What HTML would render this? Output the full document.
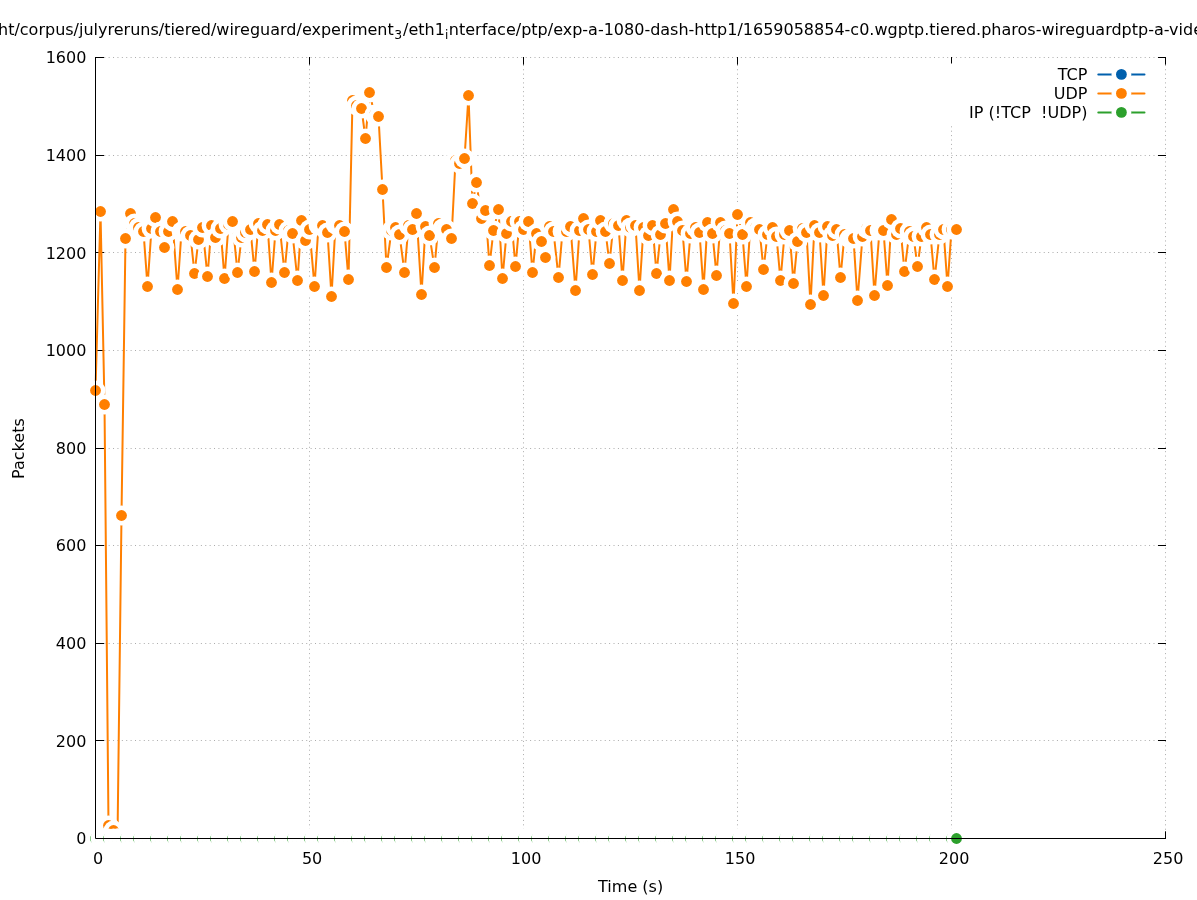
<!DOCTYPE html>
<html><head><meta charset="utf-8"><title>Packets</title><style>
html,body{margin:0;padding:0;background:#fff;overflow:hidden;}svg{display:block;}
text{font-family:'DejaVu Sans','Liberation Sans',sans-serif;font-size:16px;fill:#000;}
</style></head><body>
<svg width="1197" height="900" viewBox="0 0 1197 900">
<rect width="1197" height="900" fill="#fff"/>
<path d="M95.50 740.50H1165.50M95.50 643.50H1165.50M95.50 545.50H1165.50M95.50 448.50H1165.50M95.50 350.50H1165.50M95.50 252.50H1165.50M95.50 155.50H1165.50M95.50 57.50H1165.50M309.50 838.50V57.50M523.50 838.50V57.50M737.50 838.50V57.50M951.50 838.50V57.50M1165.50 838.50V57.50" stroke="#ababab" stroke-width="1" stroke-dasharray="1 3.39" fill="none"/>
<path d="M95 838.50H104M1166 838.50H1158M95 740.50H104M1166 740.50H1158M95 643.50H104M1166 643.50H1158M95 545.50H104M1166 545.50H1158M95 448.50H104M1166 448.50H1158M95 350.50H104M1166 350.50H1158M95 252.50H104M1166 252.50H1158M95 155.50H104M1166 155.50H1158M95 57.50H104M1166 57.50H1158M95.50 839V831.3M95.50 57V64.7M309.50 839V831.3M309.50 57V64.7M523.50 839V831.3M523.50 57V64.7M737.50 839V831.3M737.50 57V64.7M951.50 839V831.3M951.50 57V64.7M1165.50 839V831.3M1165.50 57V64.7" stroke="#000" stroke-width="1" fill="none"/>
<text x="86.4" y="844.30" text-anchor="end">0</text>
<text x="86.4" y="746.67" text-anchor="end">200</text>
<text x="86.4" y="649.05" text-anchor="end">400</text>
<text x="86.4" y="551.42" text-anchor="end">600</text>
<text x="86.4" y="453.80" text-anchor="end">800</text>
<text x="86.4" y="356.18" text-anchor="end">1000</text>
<text x="86.4" y="258.55" text-anchor="end">1200</text>
<text x="86.4" y="160.93" text-anchor="end">1400</text>
<text x="86.4" y="63.30" text-anchor="end">1600</text>
<text x="98.10" y="863.8" text-anchor="middle">0</text>
<text x="312.10" y="863.8" text-anchor="middle">50</text>
<text x="526.10" y="863.8" text-anchor="middle">100</text>
<text x="740.10" y="863.8" text-anchor="middle">150</text>
<text x="954.10" y="863.8" text-anchor="middle">200</text>
<text x="1168.10" y="863.8" text-anchor="middle">250</text>
<text x="630.6" y="892" text-anchor="middle">Time (s)</text>
<text transform="translate(23.8 448.6) rotate(-90)" text-anchor="middle">Packets</text>
<text x="-2" y="34.7">ht/corpus/julyreruns/tiered/wireguard/experiment<tspan font-size="12.4" dx="0.4" dy="4">3</tspan><tspan dx="1" dy="-4">/eth1</tspan><tspan font-size="12" dy="4">i</tspan><tspan dx="0.6" dy="-4">nterface/ptp/exp-a-1080-dash-http1/1659058854-c0.wgptp.tiered.pharos-wireguardptp-a-video</tspan></text>
<polyline points="95.50,390.50 100.50,211.50 104.50,404.50 108.50,825.50 113.50,830.50 117.50,838.50 121.50,515.50 125.50,238.50 130.50,213.50 134.50,223.50 138.50,227.50 143.50,231.50 147.50,286.50 151.50,228.50 155.50,217.50 160.50,231.50 164.50,247.50 168.50,231.50 172.50,221.50 177.50,289.50 181.50,231.50 185.50,231.50 190.50,235.50 194.50,273.50 198.50,239.50 202.50,227.50 207.50,276.50 211.50,225.50 215.50,237.50 220.50,228.50 224.50,278.50 228.50,224.50 232.50,221.50 237.50,272.50 241.50,237.50 245.50,232.50 250.50,229.50 254.50,271.50 258.50,223.50 262.50,230.50 267.50,224.50 271.50,282.50 275.50,230.50 279.50,224.50 284.50,272.50 288.50,230.50 292.50,233.50 297.50,280.50 301.50,220.50 305.50,240.50 309.50,229.50 314.50,286.50 318.50,225.50 322.50,225.50 327.50,232.50 331.50,296.50 335.50,224.50 339.50,225.50 344.50,231.50 348.50,279.50 352.50,100.50 356.50,105.50 361.50,108.50 365.50,138.50 369.50,92.50 374.50,114.50 378.50,116.50 382.50,189.50 386.50,267.50 391.50,230.50 395.50,227.50 399.50,234.50 404.50,272.50 408.50,225.50 412.50,229.50 416.50,213.50 421.50,294.50 425.50,226.50 429.50,235.50 434.50,267.50 438.50,223.50 442.50,228.50 446.50,229.50 451.50,238.50 455.50,160.50 459.50,163.50 464.50,158.50 468.50,95.50 472.50,203.50 476.50,182.50 481.50,218.50 485.50,210.50 489.50,265.50 493.50,230.50 498.50,209.50 502.50,278.50 506.50,233.50 511.50,221.50 515.50,266.50 519.50,221.50 523.50,229.50 528.50,221.50 532.50,272.50 536.50,233.50 541.50,241.50 545.50,257.50 549.50,226.50 553.50,231.50 558.50,277.50 562.50,231.50 566.50,231.50 570.50,226.50 575.50,290.50 579.50,230.50 583.50,218.50 588.50,229.50 592.50,274.50 596.50,231.50 600.50,220.50 605.50,231.50 609.50,263.50 613.50,223.50 618.50,225.50 622.50,280.50 626.50,220.50 630.50,227.50 635.50,225.50 639.50,290.50 643.50,227.50 648.50,235.50 652.50,225.50 656.50,273.50 660.50,234.50 665.50,223.50 669.50,280.50 673.50,209.50 677.50,221.50 682.50,230.50 686.50,281.50 690.50,233.50 695.50,227.50 699.50,232.50 703.50,289.50 707.50,222.50 712.50,233.50 716.50,275.50 720.50,222.50 725.50,230.50 729.50,233.50 733.50,303.50 737.50,214.50 742.50,234.50 746.50,286.50 750.50,222.50 755.50,227.50 759.50,229.50 763.50,269.50 767.50,234.50 772.50,227.50 776.50,236.50 780.50,280.50 784.50,234.50 789.50,230.50 793.50,283.50 797.50,241.50 802.50,228.50 806.50,232.50 810.50,304.50 814.50,225.50 819.50,232.50 823.50,295.50 827.50,226.50 832.50,235.50 836.50,229.50 840.50,277.50 844.50,234.50 849.50,238.50 853.50,238.50 857.50,300.50 862.50,236.50 866.50,228.50 870.50,230.50 874.50,295.50 879.50,230.50 883.50,230.50 887.50,285.50 891.50,219.50 896.50,234.50 900.50,228.50 904.50,271.50 909.50,231.50 913.50,236.50 917.50,266.50 921.50,236.50 926.50,227.50 930.50,234.50 934.50,279.50 939.50,234.50 943.50,229.50 947.50,286.50 951.50,229.50 956.50,229.50" fill="none" stroke="#ff7f00" stroke-width="2" stroke-linejoin="round"/>
<path d="M95.50 838.50H956.50" stroke="#2ca02c" stroke-width="2"/>
<circle cx="95.50" cy="390.50" r="9.90" fill="#fff"/><circle cx="95.50" cy="390.50" r="5.40" fill="#ff7f00"/>
<circle cx="100.50" cy="211.50" r="9.90" fill="#fff"/><circle cx="100.50" cy="211.50" r="5.40" fill="#ff7f00"/>
<circle cx="104.50" cy="404.50" r="9.90" fill="#fff"/><circle cx="104.50" cy="404.50" r="5.40" fill="#ff7f00"/>
<circle cx="108.50" cy="825.50" r="9.90" fill="#fff"/><circle cx="108.50" cy="825.50" r="5.40" fill="#ff7f00"/>
<circle cx="113.50" cy="830.50" r="9.90" fill="#fff"/><circle cx="113.50" cy="830.50" r="5.40" fill="#ff7f00"/>
<circle cx="117.50" cy="838.50" r="9.90" fill="#fff"/><circle cx="117.50" cy="838.50" r="5.40" fill="#ff7f00"/>
<circle cx="121.50" cy="515.50" r="9.90" fill="#fff"/><circle cx="121.50" cy="515.50" r="5.40" fill="#ff7f00"/>
<circle cx="125.50" cy="238.50" r="9.90" fill="#fff"/><circle cx="125.50" cy="238.50" r="5.40" fill="#ff7f00"/>
<circle cx="130.50" cy="213.50" r="9.90" fill="#fff"/><circle cx="130.50" cy="213.50" r="5.40" fill="#ff7f00"/>
<circle cx="134.50" cy="223.50" r="9.90" fill="#fff"/><circle cx="134.50" cy="223.50" r="5.40" fill="#ff7f00"/>
<circle cx="138.50" cy="227.50" r="9.90" fill="#fff"/><circle cx="138.50" cy="227.50" r="5.40" fill="#ff7f00"/>
<circle cx="143.50" cy="231.50" r="9.90" fill="#fff"/><circle cx="143.50" cy="231.50" r="5.40" fill="#ff7f00"/>
<circle cx="147.50" cy="286.50" r="9.90" fill="#fff"/><circle cx="147.50" cy="286.50" r="5.40" fill="#ff7f00"/>
<circle cx="151.50" cy="228.50" r="9.90" fill="#fff"/><circle cx="151.50" cy="228.50" r="5.40" fill="#ff7f00"/>
<circle cx="155.50" cy="217.50" r="9.90" fill="#fff"/><circle cx="155.50" cy="217.50" r="5.40" fill="#ff7f00"/>
<circle cx="160.50" cy="231.50" r="9.90" fill="#fff"/><circle cx="160.50" cy="231.50" r="5.40" fill="#ff7f00"/>
<circle cx="164.50" cy="247.50" r="9.90" fill="#fff"/><circle cx="164.50" cy="247.50" r="5.40" fill="#ff7f00"/>
<circle cx="168.50" cy="231.50" r="9.90" fill="#fff"/><circle cx="168.50" cy="231.50" r="5.40" fill="#ff7f00"/>
<circle cx="172.50" cy="221.50" r="9.90" fill="#fff"/><circle cx="172.50" cy="221.50" r="5.40" fill="#ff7f00"/>
<circle cx="177.50" cy="289.50" r="9.90" fill="#fff"/><circle cx="177.50" cy="289.50" r="5.40" fill="#ff7f00"/>
<circle cx="181.50" cy="231.50" r="9.90" fill="#fff"/><circle cx="181.50" cy="231.50" r="5.40" fill="#ff7f00"/>
<circle cx="185.50" cy="231.50" r="9.90" fill="#fff"/><circle cx="185.50" cy="231.50" r="5.40" fill="#ff7f00"/>
<circle cx="190.50" cy="235.50" r="9.90" fill="#fff"/><circle cx="190.50" cy="235.50" r="5.40" fill="#ff7f00"/>
<circle cx="194.50" cy="273.50" r="9.90" fill="#fff"/><circle cx="194.50" cy="273.50" r="5.40" fill="#ff7f00"/>
<circle cx="198.50" cy="239.50" r="9.90" fill="#fff"/><circle cx="198.50" cy="239.50" r="5.40" fill="#ff7f00"/>
<circle cx="202.50" cy="227.50" r="9.90" fill="#fff"/><circle cx="202.50" cy="227.50" r="5.40" fill="#ff7f00"/>
<circle cx="207.50" cy="276.50" r="9.90" fill="#fff"/><circle cx="207.50" cy="276.50" r="5.40" fill="#ff7f00"/>
<circle cx="211.50" cy="225.50" r="9.90" fill="#fff"/><circle cx="211.50" cy="225.50" r="5.40" fill="#ff7f00"/>
<circle cx="215.50" cy="237.50" r="9.90" fill="#fff"/><circle cx="215.50" cy="237.50" r="5.40" fill="#ff7f00"/>
<circle cx="220.50" cy="228.50" r="9.90" fill="#fff"/><circle cx="220.50" cy="228.50" r="5.40" fill="#ff7f00"/>
<circle cx="224.50" cy="278.50" r="9.90" fill="#fff"/><circle cx="224.50" cy="278.50" r="5.40" fill="#ff7f00"/>
<circle cx="228.50" cy="224.50" r="9.90" fill="#fff"/><circle cx="228.50" cy="224.50" r="5.40" fill="#ff7f00"/>
<circle cx="232.50" cy="221.50" r="9.90" fill="#fff"/><circle cx="232.50" cy="221.50" r="5.40" fill="#ff7f00"/>
<circle cx="237.50" cy="272.50" r="9.90" fill="#fff"/><circle cx="237.50" cy="272.50" r="5.40" fill="#ff7f00"/>
<circle cx="241.50" cy="237.50" r="9.90" fill="#fff"/><circle cx="241.50" cy="237.50" r="5.40" fill="#ff7f00"/>
<circle cx="245.50" cy="232.50" r="9.90" fill="#fff"/><circle cx="245.50" cy="232.50" r="5.40" fill="#ff7f00"/>
<circle cx="250.50" cy="229.50" r="9.90" fill="#fff"/><circle cx="250.50" cy="229.50" r="5.40" fill="#ff7f00"/>
<circle cx="254.50" cy="271.50" r="9.90" fill="#fff"/><circle cx="254.50" cy="271.50" r="5.40" fill="#ff7f00"/>
<circle cx="258.50" cy="223.50" r="9.90" fill="#fff"/><circle cx="258.50" cy="223.50" r="5.40" fill="#ff7f00"/>
<circle cx="262.50" cy="230.50" r="9.90" fill="#fff"/><circle cx="262.50" cy="230.50" r="5.40" fill="#ff7f00"/>
<circle cx="267.50" cy="224.50" r="9.90" fill="#fff"/><circle cx="267.50" cy="224.50" r="5.40" fill="#ff7f00"/>
<circle cx="271.50" cy="282.50" r="9.90" fill="#fff"/><circle cx="271.50" cy="282.50" r="5.40" fill="#ff7f00"/>
<circle cx="275.50" cy="230.50" r="9.90" fill="#fff"/><circle cx="275.50" cy="230.50" r="5.40" fill="#ff7f00"/>
<circle cx="279.50" cy="224.50" r="9.90" fill="#fff"/><circle cx="279.50" cy="224.50" r="5.40" fill="#ff7f00"/>
<circle cx="284.50" cy="272.50" r="9.90" fill="#fff"/><circle cx="284.50" cy="272.50" r="5.40" fill="#ff7f00"/>
<circle cx="288.50" cy="230.50" r="9.90" fill="#fff"/><circle cx="288.50" cy="230.50" r="5.40" fill="#ff7f00"/>
<circle cx="292.50" cy="233.50" r="9.90" fill="#fff"/><circle cx="292.50" cy="233.50" r="5.40" fill="#ff7f00"/>
<circle cx="297.50" cy="280.50" r="9.90" fill="#fff"/><circle cx="297.50" cy="280.50" r="5.40" fill="#ff7f00"/>
<circle cx="301.50" cy="220.50" r="9.90" fill="#fff"/><circle cx="301.50" cy="220.50" r="5.40" fill="#ff7f00"/>
<circle cx="305.50" cy="240.50" r="9.90" fill="#fff"/><circle cx="305.50" cy="240.50" r="5.40" fill="#ff7f00"/>
<circle cx="309.50" cy="229.50" r="9.90" fill="#fff"/><circle cx="309.50" cy="229.50" r="5.40" fill="#ff7f00"/>
<circle cx="314.50" cy="286.50" r="9.90" fill="#fff"/><circle cx="314.50" cy="286.50" r="5.40" fill="#ff7f00"/>
<circle cx="318.50" cy="225.50" r="9.90" fill="#fff"/><circle cx="318.50" cy="225.50" r="5.40" fill="#ff7f00"/>
<circle cx="322.50" cy="225.50" r="9.90" fill="#fff"/><circle cx="322.50" cy="225.50" r="5.40" fill="#ff7f00"/>
<circle cx="327.50" cy="232.50" r="9.90" fill="#fff"/><circle cx="327.50" cy="232.50" r="5.40" fill="#ff7f00"/>
<circle cx="331.50" cy="296.50" r="9.90" fill="#fff"/><circle cx="331.50" cy="296.50" r="5.40" fill="#ff7f00"/>
<circle cx="335.50" cy="224.50" r="9.90" fill="#fff"/><circle cx="335.50" cy="224.50" r="5.40" fill="#ff7f00"/>
<circle cx="339.50" cy="225.50" r="9.90" fill="#fff"/><circle cx="339.50" cy="225.50" r="5.40" fill="#ff7f00"/>
<circle cx="344.50" cy="231.50" r="9.90" fill="#fff"/><circle cx="344.50" cy="231.50" r="5.40" fill="#ff7f00"/>
<circle cx="348.50" cy="279.50" r="9.90" fill="#fff"/><circle cx="348.50" cy="279.50" r="5.40" fill="#ff7f00"/>
<circle cx="352.50" cy="100.50" r="9.90" fill="#fff"/><circle cx="352.50" cy="100.50" r="5.40" fill="#ff7f00"/>
<circle cx="356.50" cy="105.50" r="9.90" fill="#fff"/><circle cx="356.50" cy="105.50" r="5.40" fill="#ff7f00"/>
<circle cx="361.50" cy="108.50" r="9.90" fill="#fff"/><circle cx="361.50" cy="108.50" r="5.40" fill="#ff7f00"/>
<circle cx="365.50" cy="138.50" r="9.90" fill="#fff"/><circle cx="365.50" cy="138.50" r="5.40" fill="#ff7f00"/>
<circle cx="369.50" cy="92.50" r="9.90" fill="#fff"/><circle cx="369.50" cy="92.50" r="5.40" fill="#ff7f00"/>
<circle cx="374.50" cy="114.50" r="9.90" fill="#fff"/><circle cx="374.50" cy="114.50" r="5.40" fill="#ff7f00"/>
<circle cx="378.50" cy="116.50" r="9.90" fill="#fff"/><circle cx="378.50" cy="116.50" r="5.40" fill="#ff7f00"/>
<circle cx="382.50" cy="189.50" r="9.90" fill="#fff"/><circle cx="382.50" cy="189.50" r="5.40" fill="#ff7f00"/>
<circle cx="386.50" cy="267.50" r="9.90" fill="#fff"/><circle cx="386.50" cy="267.50" r="5.40" fill="#ff7f00"/>
<circle cx="391.50" cy="230.50" r="9.90" fill="#fff"/><circle cx="391.50" cy="230.50" r="5.40" fill="#ff7f00"/>
<circle cx="395.50" cy="227.50" r="9.90" fill="#fff"/><circle cx="395.50" cy="227.50" r="5.40" fill="#ff7f00"/>
<circle cx="399.50" cy="234.50" r="9.90" fill="#fff"/><circle cx="399.50" cy="234.50" r="5.40" fill="#ff7f00"/>
<circle cx="404.50" cy="272.50" r="9.90" fill="#fff"/><circle cx="404.50" cy="272.50" r="5.40" fill="#ff7f00"/>
<circle cx="408.50" cy="225.50" r="9.90" fill="#fff"/><circle cx="408.50" cy="225.50" r="5.40" fill="#ff7f00"/>
<circle cx="412.50" cy="229.50" r="9.90" fill="#fff"/><circle cx="412.50" cy="229.50" r="5.40" fill="#ff7f00"/>
<circle cx="416.50" cy="213.50" r="9.90" fill="#fff"/><circle cx="416.50" cy="213.50" r="5.40" fill="#ff7f00"/>
<circle cx="421.50" cy="294.50" r="9.90" fill="#fff"/><circle cx="421.50" cy="294.50" r="5.40" fill="#ff7f00"/>
<circle cx="425.50" cy="226.50" r="9.90" fill="#fff"/><circle cx="425.50" cy="226.50" r="5.40" fill="#ff7f00"/>
<circle cx="429.50" cy="235.50" r="9.90" fill="#fff"/><circle cx="429.50" cy="235.50" r="5.40" fill="#ff7f00"/>
<circle cx="434.50" cy="267.50" r="9.90" fill="#fff"/><circle cx="434.50" cy="267.50" r="5.40" fill="#ff7f00"/>
<circle cx="438.50" cy="223.50" r="9.90" fill="#fff"/><circle cx="438.50" cy="223.50" r="5.40" fill="#ff7f00"/>
<circle cx="442.50" cy="228.50" r="9.90" fill="#fff"/><circle cx="442.50" cy="228.50" r="5.40" fill="#ff7f00"/>
<circle cx="446.50" cy="229.50" r="9.90" fill="#fff"/><circle cx="446.50" cy="229.50" r="5.40" fill="#ff7f00"/>
<circle cx="451.50" cy="238.50" r="9.90" fill="#fff"/><circle cx="451.50" cy="238.50" r="5.40" fill="#ff7f00"/>
<circle cx="455.50" cy="160.50" r="9.90" fill="#fff"/><circle cx="455.50" cy="160.50" r="5.40" fill="#ff7f00"/>
<circle cx="459.50" cy="163.50" r="9.90" fill="#fff"/><circle cx="459.50" cy="163.50" r="5.40" fill="#ff7f00"/>
<circle cx="464.50" cy="158.50" r="9.90" fill="#fff"/><circle cx="464.50" cy="158.50" r="5.40" fill="#ff7f00"/>
<circle cx="468.50" cy="95.50" r="9.90" fill="#fff"/><circle cx="468.50" cy="95.50" r="5.40" fill="#ff7f00"/>
<circle cx="472.50" cy="203.50" r="9.90" fill="#fff"/><circle cx="472.50" cy="203.50" r="5.40" fill="#ff7f00"/>
<circle cx="476.50" cy="182.50" r="9.90" fill="#fff"/><circle cx="476.50" cy="182.50" r="5.40" fill="#ff7f00"/>
<circle cx="481.50" cy="218.50" r="9.90" fill="#fff"/><circle cx="481.50" cy="218.50" r="5.40" fill="#ff7f00"/>
<circle cx="485.50" cy="210.50" r="9.90" fill="#fff"/><circle cx="485.50" cy="210.50" r="5.40" fill="#ff7f00"/>
<circle cx="489.50" cy="265.50" r="9.90" fill="#fff"/><circle cx="489.50" cy="265.50" r="5.40" fill="#ff7f00"/>
<circle cx="493.50" cy="230.50" r="9.90" fill="#fff"/><circle cx="493.50" cy="230.50" r="5.40" fill="#ff7f00"/>
<circle cx="498.50" cy="209.50" r="9.90" fill="#fff"/><circle cx="498.50" cy="209.50" r="5.40" fill="#ff7f00"/>
<circle cx="502.50" cy="278.50" r="9.90" fill="#fff"/><circle cx="502.50" cy="278.50" r="5.40" fill="#ff7f00"/>
<circle cx="506.50" cy="233.50" r="9.90" fill="#fff"/><circle cx="506.50" cy="233.50" r="5.40" fill="#ff7f00"/>
<circle cx="511.50" cy="221.50" r="9.90" fill="#fff"/><circle cx="511.50" cy="221.50" r="5.40" fill="#ff7f00"/>
<circle cx="515.50" cy="266.50" r="9.90" fill="#fff"/><circle cx="515.50" cy="266.50" r="5.40" fill="#ff7f00"/>
<circle cx="519.50" cy="221.50" r="9.90" fill="#fff"/><circle cx="519.50" cy="221.50" r="5.40" fill="#ff7f00"/>
<circle cx="523.50" cy="229.50" r="9.90" fill="#fff"/><circle cx="523.50" cy="229.50" r="5.40" fill="#ff7f00"/>
<circle cx="528.50" cy="221.50" r="9.90" fill="#fff"/><circle cx="528.50" cy="221.50" r="5.40" fill="#ff7f00"/>
<circle cx="532.50" cy="272.50" r="9.90" fill="#fff"/><circle cx="532.50" cy="272.50" r="5.40" fill="#ff7f00"/>
<circle cx="536.50" cy="233.50" r="9.90" fill="#fff"/><circle cx="536.50" cy="233.50" r="5.40" fill="#ff7f00"/>
<circle cx="541.50" cy="241.50" r="9.90" fill="#fff"/><circle cx="541.50" cy="241.50" r="5.40" fill="#ff7f00"/>
<circle cx="545.50" cy="257.50" r="9.90" fill="#fff"/><circle cx="545.50" cy="257.50" r="5.40" fill="#ff7f00"/>
<circle cx="549.50" cy="226.50" r="9.90" fill="#fff"/><circle cx="549.50" cy="226.50" r="5.40" fill="#ff7f00"/>
<circle cx="553.50" cy="231.50" r="9.90" fill="#fff"/><circle cx="553.50" cy="231.50" r="5.40" fill="#ff7f00"/>
<circle cx="558.50" cy="277.50" r="9.90" fill="#fff"/><circle cx="558.50" cy="277.50" r="5.40" fill="#ff7f00"/>
<circle cx="562.50" cy="231.50" r="9.90" fill="#fff"/><circle cx="562.50" cy="231.50" r="5.40" fill="#ff7f00"/>
<circle cx="566.50" cy="231.50" r="9.90" fill="#fff"/><circle cx="566.50" cy="231.50" r="5.40" fill="#ff7f00"/>
<circle cx="570.50" cy="226.50" r="9.90" fill="#fff"/><circle cx="570.50" cy="226.50" r="5.40" fill="#ff7f00"/>
<circle cx="575.50" cy="290.50" r="9.90" fill="#fff"/><circle cx="575.50" cy="290.50" r="5.40" fill="#ff7f00"/>
<circle cx="579.50" cy="230.50" r="9.90" fill="#fff"/><circle cx="579.50" cy="230.50" r="5.40" fill="#ff7f00"/>
<circle cx="583.50" cy="218.50" r="9.90" fill="#fff"/><circle cx="583.50" cy="218.50" r="5.40" fill="#ff7f00"/>
<circle cx="588.50" cy="229.50" r="9.90" fill="#fff"/><circle cx="588.50" cy="229.50" r="5.40" fill="#ff7f00"/>
<circle cx="592.50" cy="274.50" r="9.90" fill="#fff"/><circle cx="592.50" cy="274.50" r="5.40" fill="#ff7f00"/>
<circle cx="596.50" cy="231.50" r="9.90" fill="#fff"/><circle cx="596.50" cy="231.50" r="5.40" fill="#ff7f00"/>
<circle cx="600.50" cy="220.50" r="9.90" fill="#fff"/><circle cx="600.50" cy="220.50" r="5.40" fill="#ff7f00"/>
<circle cx="605.50" cy="231.50" r="9.90" fill="#fff"/><circle cx="605.50" cy="231.50" r="5.40" fill="#ff7f00"/>
<circle cx="609.50" cy="263.50" r="9.90" fill="#fff"/><circle cx="609.50" cy="263.50" r="5.40" fill="#ff7f00"/>
<circle cx="613.50" cy="223.50" r="9.90" fill="#fff"/><circle cx="613.50" cy="223.50" r="5.40" fill="#ff7f00"/>
<circle cx="618.50" cy="225.50" r="9.90" fill="#fff"/><circle cx="618.50" cy="225.50" r="5.40" fill="#ff7f00"/>
<circle cx="622.50" cy="280.50" r="9.90" fill="#fff"/><circle cx="622.50" cy="280.50" r="5.40" fill="#ff7f00"/>
<circle cx="626.50" cy="220.50" r="9.90" fill="#fff"/><circle cx="626.50" cy="220.50" r="5.40" fill="#ff7f00"/>
<circle cx="630.50" cy="227.50" r="9.90" fill="#fff"/><circle cx="630.50" cy="227.50" r="5.40" fill="#ff7f00"/>
<circle cx="635.50" cy="225.50" r="9.90" fill="#fff"/><circle cx="635.50" cy="225.50" r="5.40" fill="#ff7f00"/>
<circle cx="639.50" cy="290.50" r="9.90" fill="#fff"/><circle cx="639.50" cy="290.50" r="5.40" fill="#ff7f00"/>
<circle cx="643.50" cy="227.50" r="9.90" fill="#fff"/><circle cx="643.50" cy="227.50" r="5.40" fill="#ff7f00"/>
<circle cx="648.50" cy="235.50" r="9.90" fill="#fff"/><circle cx="648.50" cy="235.50" r="5.40" fill="#ff7f00"/>
<circle cx="652.50" cy="225.50" r="9.90" fill="#fff"/><circle cx="652.50" cy="225.50" r="5.40" fill="#ff7f00"/>
<circle cx="656.50" cy="273.50" r="9.90" fill="#fff"/><circle cx="656.50" cy="273.50" r="5.40" fill="#ff7f00"/>
<circle cx="660.50" cy="234.50" r="9.90" fill="#fff"/><circle cx="660.50" cy="234.50" r="5.40" fill="#ff7f00"/>
<circle cx="665.50" cy="223.50" r="9.90" fill="#fff"/><circle cx="665.50" cy="223.50" r="5.40" fill="#ff7f00"/>
<circle cx="669.50" cy="280.50" r="9.90" fill="#fff"/><circle cx="669.50" cy="280.50" r="5.40" fill="#ff7f00"/>
<circle cx="673.50" cy="209.50" r="9.90" fill="#fff"/><circle cx="673.50" cy="209.50" r="5.40" fill="#ff7f00"/>
<circle cx="677.50" cy="221.50" r="9.90" fill="#fff"/><circle cx="677.50" cy="221.50" r="5.40" fill="#ff7f00"/>
<circle cx="682.50" cy="230.50" r="9.90" fill="#fff"/><circle cx="682.50" cy="230.50" r="5.40" fill="#ff7f00"/>
<circle cx="686.50" cy="281.50" r="9.90" fill="#fff"/><circle cx="686.50" cy="281.50" r="5.40" fill="#ff7f00"/>
<circle cx="690.50" cy="233.50" r="9.90" fill="#fff"/><circle cx="690.50" cy="233.50" r="5.40" fill="#ff7f00"/>
<circle cx="695.50" cy="227.50" r="9.90" fill="#fff"/><circle cx="695.50" cy="227.50" r="5.40" fill="#ff7f00"/>
<circle cx="699.50" cy="232.50" r="9.90" fill="#fff"/><circle cx="699.50" cy="232.50" r="5.40" fill="#ff7f00"/>
<circle cx="703.50" cy="289.50" r="9.90" fill="#fff"/><circle cx="703.50" cy="289.50" r="5.40" fill="#ff7f00"/>
<circle cx="707.50" cy="222.50" r="9.90" fill="#fff"/><circle cx="707.50" cy="222.50" r="5.40" fill="#ff7f00"/>
<circle cx="712.50" cy="233.50" r="9.90" fill="#fff"/><circle cx="712.50" cy="233.50" r="5.40" fill="#ff7f00"/>
<circle cx="716.50" cy="275.50" r="9.90" fill="#fff"/><circle cx="716.50" cy="275.50" r="5.40" fill="#ff7f00"/>
<circle cx="720.50" cy="222.50" r="9.90" fill="#fff"/><circle cx="720.50" cy="222.50" r="5.40" fill="#ff7f00"/>
<circle cx="725.50" cy="230.50" r="9.90" fill="#fff"/><circle cx="725.50" cy="230.50" r="5.40" fill="#ff7f00"/>
<circle cx="729.50" cy="233.50" r="9.90" fill="#fff"/><circle cx="729.50" cy="233.50" r="5.40" fill="#ff7f00"/>
<circle cx="733.50" cy="303.50" r="9.90" fill="#fff"/><circle cx="733.50" cy="303.50" r="5.40" fill="#ff7f00"/>
<circle cx="737.50" cy="214.50" r="9.90" fill="#fff"/><circle cx="737.50" cy="214.50" r="5.40" fill="#ff7f00"/>
<circle cx="742.50" cy="234.50" r="9.90" fill="#fff"/><circle cx="742.50" cy="234.50" r="5.40" fill="#ff7f00"/>
<circle cx="746.50" cy="286.50" r="9.90" fill="#fff"/><circle cx="746.50" cy="286.50" r="5.40" fill="#ff7f00"/>
<circle cx="750.50" cy="222.50" r="9.90" fill="#fff"/><circle cx="750.50" cy="222.50" r="5.40" fill="#ff7f00"/>
<circle cx="755.50" cy="227.50" r="9.90" fill="#fff"/><circle cx="755.50" cy="227.50" r="5.40" fill="#ff7f00"/>
<circle cx="759.50" cy="229.50" r="9.90" fill="#fff"/><circle cx="759.50" cy="229.50" r="5.40" fill="#ff7f00"/>
<circle cx="763.50" cy="269.50" r="9.90" fill="#fff"/><circle cx="763.50" cy="269.50" r="5.40" fill="#ff7f00"/>
<circle cx="767.50" cy="234.50" r="9.90" fill="#fff"/><circle cx="767.50" cy="234.50" r="5.40" fill="#ff7f00"/>
<circle cx="772.50" cy="227.50" r="9.90" fill="#fff"/><circle cx="772.50" cy="227.50" r="5.40" fill="#ff7f00"/>
<circle cx="776.50" cy="236.50" r="9.90" fill="#fff"/><circle cx="776.50" cy="236.50" r="5.40" fill="#ff7f00"/>
<circle cx="780.50" cy="280.50" r="9.90" fill="#fff"/><circle cx="780.50" cy="280.50" r="5.40" fill="#ff7f00"/>
<circle cx="784.50" cy="234.50" r="9.90" fill="#fff"/><circle cx="784.50" cy="234.50" r="5.40" fill="#ff7f00"/>
<circle cx="789.50" cy="230.50" r="9.90" fill="#fff"/><circle cx="789.50" cy="230.50" r="5.40" fill="#ff7f00"/>
<circle cx="793.50" cy="283.50" r="9.90" fill="#fff"/><circle cx="793.50" cy="283.50" r="5.40" fill="#ff7f00"/>
<circle cx="797.50" cy="241.50" r="9.90" fill="#fff"/><circle cx="797.50" cy="241.50" r="5.40" fill="#ff7f00"/>
<circle cx="802.50" cy="228.50" r="9.90" fill="#fff"/><circle cx="802.50" cy="228.50" r="5.40" fill="#ff7f00"/>
<circle cx="806.50" cy="232.50" r="9.90" fill="#fff"/><circle cx="806.50" cy="232.50" r="5.40" fill="#ff7f00"/>
<circle cx="810.50" cy="304.50" r="9.90" fill="#fff"/><circle cx="810.50" cy="304.50" r="5.40" fill="#ff7f00"/>
<circle cx="814.50" cy="225.50" r="9.90" fill="#fff"/><circle cx="814.50" cy="225.50" r="5.40" fill="#ff7f00"/>
<circle cx="819.50" cy="232.50" r="9.90" fill="#fff"/><circle cx="819.50" cy="232.50" r="5.40" fill="#ff7f00"/>
<circle cx="823.50" cy="295.50" r="9.90" fill="#fff"/><circle cx="823.50" cy="295.50" r="5.40" fill="#ff7f00"/>
<circle cx="827.50" cy="226.50" r="9.90" fill="#fff"/><circle cx="827.50" cy="226.50" r="5.40" fill="#ff7f00"/>
<circle cx="832.50" cy="235.50" r="9.90" fill="#fff"/><circle cx="832.50" cy="235.50" r="5.40" fill="#ff7f00"/>
<circle cx="836.50" cy="229.50" r="9.90" fill="#fff"/><circle cx="836.50" cy="229.50" r="5.40" fill="#ff7f00"/>
<circle cx="840.50" cy="277.50" r="9.90" fill="#fff"/><circle cx="840.50" cy="277.50" r="5.40" fill="#ff7f00"/>
<circle cx="844.50" cy="234.50" r="9.90" fill="#fff"/><circle cx="844.50" cy="234.50" r="5.40" fill="#ff7f00"/>
<circle cx="849.50" cy="238.50" r="9.90" fill="#fff"/><circle cx="849.50" cy="238.50" r="5.40" fill="#ff7f00"/>
<circle cx="853.50" cy="238.50" r="9.90" fill="#fff"/><circle cx="853.50" cy="238.50" r="5.40" fill="#ff7f00"/>
<circle cx="857.50" cy="300.50" r="9.90" fill="#fff"/><circle cx="857.50" cy="300.50" r="5.40" fill="#ff7f00"/>
<circle cx="862.50" cy="236.50" r="9.90" fill="#fff"/><circle cx="862.50" cy="236.50" r="5.40" fill="#ff7f00"/>
<circle cx="866.50" cy="228.50" r="9.90" fill="#fff"/><circle cx="866.50" cy="228.50" r="5.40" fill="#ff7f00"/>
<circle cx="870.50" cy="230.50" r="9.90" fill="#fff"/><circle cx="870.50" cy="230.50" r="5.40" fill="#ff7f00"/>
<circle cx="874.50" cy="295.50" r="9.90" fill="#fff"/><circle cx="874.50" cy="295.50" r="5.40" fill="#ff7f00"/>
<circle cx="879.50" cy="230.50" r="9.90" fill="#fff"/><circle cx="879.50" cy="230.50" r="5.40" fill="#ff7f00"/>
<circle cx="883.50" cy="230.50" r="9.90" fill="#fff"/><circle cx="883.50" cy="230.50" r="5.40" fill="#ff7f00"/>
<circle cx="887.50" cy="285.50" r="9.90" fill="#fff"/><circle cx="887.50" cy="285.50" r="5.40" fill="#ff7f00"/>
<circle cx="891.50" cy="219.50" r="9.90" fill="#fff"/><circle cx="891.50" cy="219.50" r="5.40" fill="#ff7f00"/>
<circle cx="896.50" cy="234.50" r="9.90" fill="#fff"/><circle cx="896.50" cy="234.50" r="5.40" fill="#ff7f00"/>
<circle cx="900.50" cy="228.50" r="9.90" fill="#fff"/><circle cx="900.50" cy="228.50" r="5.40" fill="#ff7f00"/>
<circle cx="904.50" cy="271.50" r="9.90" fill="#fff"/><circle cx="904.50" cy="271.50" r="5.40" fill="#ff7f00"/>
<circle cx="909.50" cy="231.50" r="9.90" fill="#fff"/><circle cx="909.50" cy="231.50" r="5.40" fill="#ff7f00"/>
<circle cx="913.50" cy="236.50" r="9.90" fill="#fff"/><circle cx="913.50" cy="236.50" r="5.40" fill="#ff7f00"/>
<circle cx="917.50" cy="266.50" r="9.90" fill="#fff"/><circle cx="917.50" cy="266.50" r="5.40" fill="#ff7f00"/>
<circle cx="921.50" cy="236.50" r="9.90" fill="#fff"/><circle cx="921.50" cy="236.50" r="5.40" fill="#ff7f00"/>
<circle cx="926.50" cy="227.50" r="9.90" fill="#fff"/><circle cx="926.50" cy="227.50" r="5.40" fill="#ff7f00"/>
<circle cx="930.50" cy="234.50" r="9.90" fill="#fff"/><circle cx="930.50" cy="234.50" r="5.40" fill="#ff7f00"/>
<circle cx="934.50" cy="279.50" r="9.90" fill="#fff"/><circle cx="934.50" cy="279.50" r="5.40" fill="#ff7f00"/>
<circle cx="939.50" cy="234.50" r="9.90" fill="#fff"/><circle cx="939.50" cy="234.50" r="5.40" fill="#ff7f00"/>
<circle cx="943.50" cy="229.50" r="9.90" fill="#fff"/><circle cx="943.50" cy="229.50" r="5.40" fill="#ff7f00"/>
<circle cx="947.50" cy="286.50" r="9.90" fill="#fff"/><circle cx="947.50" cy="286.50" r="5.40" fill="#ff7f00"/>
<circle cx="951.50" cy="229.50" r="9.90" fill="#fff"/><circle cx="951.50" cy="229.50" r="5.40" fill="#ff7f00"/>
<circle cx="956.50" cy="229.50" r="9.90" fill="#fff"/><circle cx="956.50" cy="229.50" r="5.40" fill="#ff7f00"/>
<circle cx="95.50" cy="838.50" r="9.90" fill="#fff"/><circle cx="95.50" cy="838.50" r="5.40" fill="#2ca02c"/>
<circle cx="100.50" cy="838.50" r="9.90" fill="#fff"/><circle cx="100.50" cy="838.50" r="5.40" fill="#2ca02c"/>
<circle cx="104.50" cy="838.50" r="9.90" fill="#fff"/><circle cx="104.50" cy="838.50" r="5.40" fill="#2ca02c"/>
<circle cx="108.50" cy="838.50" r="9.90" fill="#fff"/><circle cx="108.50" cy="838.50" r="5.40" fill="#2ca02c"/>
<circle cx="113.50" cy="838.50" r="9.90" fill="#fff"/><circle cx="113.50" cy="838.50" r="5.40" fill="#2ca02c"/>
<circle cx="117.50" cy="838.50" r="9.90" fill="#fff"/><circle cx="117.50" cy="838.50" r="5.40" fill="#2ca02c"/>
<circle cx="121.50" cy="838.50" r="9.90" fill="#fff"/><circle cx="121.50" cy="838.50" r="5.40" fill="#2ca02c"/>
<circle cx="125.50" cy="838.50" r="9.90" fill="#fff"/><circle cx="125.50" cy="838.50" r="5.40" fill="#2ca02c"/>
<circle cx="130.50" cy="838.50" r="9.90" fill="#fff"/><circle cx="130.50" cy="838.50" r="5.40" fill="#2ca02c"/>
<circle cx="134.50" cy="838.50" r="9.90" fill="#fff"/><circle cx="134.50" cy="838.50" r="5.40" fill="#2ca02c"/>
<circle cx="138.50" cy="838.50" r="9.90" fill="#fff"/><circle cx="138.50" cy="838.50" r="5.40" fill="#2ca02c"/>
<circle cx="143.50" cy="838.50" r="9.90" fill="#fff"/><circle cx="143.50" cy="838.50" r="5.40" fill="#2ca02c"/>
<circle cx="147.50" cy="838.50" r="9.90" fill="#fff"/><circle cx="147.50" cy="838.50" r="5.40" fill="#2ca02c"/>
<circle cx="151.50" cy="838.50" r="9.90" fill="#fff"/><circle cx="151.50" cy="838.50" r="5.40" fill="#2ca02c"/>
<circle cx="155.50" cy="838.50" r="9.90" fill="#fff"/><circle cx="155.50" cy="838.50" r="5.40" fill="#2ca02c"/>
<circle cx="160.50" cy="838.50" r="9.90" fill="#fff"/><circle cx="160.50" cy="838.50" r="5.40" fill="#2ca02c"/>
<circle cx="164.50" cy="838.50" r="9.90" fill="#fff"/><circle cx="164.50" cy="838.50" r="5.40" fill="#2ca02c"/>
<circle cx="168.50" cy="838.50" r="9.90" fill="#fff"/><circle cx="168.50" cy="838.50" r="5.40" fill="#2ca02c"/>
<circle cx="172.50" cy="838.50" r="9.90" fill="#fff"/><circle cx="172.50" cy="838.50" r="5.40" fill="#2ca02c"/>
<circle cx="177.50" cy="838.50" r="9.90" fill="#fff"/><circle cx="177.50" cy="838.50" r="5.40" fill="#2ca02c"/>
<circle cx="181.50" cy="838.50" r="9.90" fill="#fff"/><circle cx="181.50" cy="838.50" r="5.40" fill="#2ca02c"/>
<circle cx="185.50" cy="838.50" r="9.90" fill="#fff"/><circle cx="185.50" cy="838.50" r="5.40" fill="#2ca02c"/>
<circle cx="190.50" cy="838.50" r="9.90" fill="#fff"/><circle cx="190.50" cy="838.50" r="5.40" fill="#2ca02c"/>
<circle cx="194.50" cy="838.50" r="9.90" fill="#fff"/><circle cx="194.50" cy="838.50" r="5.40" fill="#2ca02c"/>
<circle cx="198.50" cy="838.50" r="9.90" fill="#fff"/><circle cx="198.50" cy="838.50" r="5.40" fill="#2ca02c"/>
<circle cx="202.50" cy="838.50" r="9.90" fill="#fff"/><circle cx="202.50" cy="838.50" r="5.40" fill="#2ca02c"/>
<circle cx="207.50" cy="838.50" r="9.90" fill="#fff"/><circle cx="207.50" cy="838.50" r="5.40" fill="#2ca02c"/>
<circle cx="211.50" cy="838.50" r="9.90" fill="#fff"/><circle cx="211.50" cy="838.50" r="5.40" fill="#2ca02c"/>
<circle cx="215.50" cy="838.50" r="9.90" fill="#fff"/><circle cx="215.50" cy="838.50" r="5.40" fill="#2ca02c"/>
<circle cx="220.50" cy="838.50" r="9.90" fill="#fff"/><circle cx="220.50" cy="838.50" r="5.40" fill="#2ca02c"/>
<circle cx="224.50" cy="838.50" r="9.90" fill="#fff"/><circle cx="224.50" cy="838.50" r="5.40" fill="#2ca02c"/>
<circle cx="228.50" cy="838.50" r="9.90" fill="#fff"/><circle cx="228.50" cy="838.50" r="5.40" fill="#2ca02c"/>
<circle cx="232.50" cy="838.50" r="9.90" fill="#fff"/><circle cx="232.50" cy="838.50" r="5.40" fill="#2ca02c"/>
<circle cx="237.50" cy="838.50" r="9.90" fill="#fff"/><circle cx="237.50" cy="838.50" r="5.40" fill="#2ca02c"/>
<circle cx="241.50" cy="838.50" r="9.90" fill="#fff"/><circle cx="241.50" cy="838.50" r="5.40" fill="#2ca02c"/>
<circle cx="245.50" cy="838.50" r="9.90" fill="#fff"/><circle cx="245.50" cy="838.50" r="5.40" fill="#2ca02c"/>
<circle cx="250.50" cy="838.50" r="9.90" fill="#fff"/><circle cx="250.50" cy="838.50" r="5.40" fill="#2ca02c"/>
<circle cx="254.50" cy="838.50" r="9.90" fill="#fff"/><circle cx="254.50" cy="838.50" r="5.40" fill="#2ca02c"/>
<circle cx="258.50" cy="838.50" r="9.90" fill="#fff"/><circle cx="258.50" cy="838.50" r="5.40" fill="#2ca02c"/>
<circle cx="262.50" cy="838.50" r="9.90" fill="#fff"/><circle cx="262.50" cy="838.50" r="5.40" fill="#2ca02c"/>
<circle cx="267.50" cy="838.50" r="9.90" fill="#fff"/><circle cx="267.50" cy="838.50" r="5.40" fill="#2ca02c"/>
<circle cx="271.50" cy="838.50" r="9.90" fill="#fff"/><circle cx="271.50" cy="838.50" r="5.40" fill="#2ca02c"/>
<circle cx="275.50" cy="838.50" r="9.90" fill="#fff"/><circle cx="275.50" cy="838.50" r="5.40" fill="#2ca02c"/>
<circle cx="279.50" cy="838.50" r="9.90" fill="#fff"/><circle cx="279.50" cy="838.50" r="5.40" fill="#2ca02c"/>
<circle cx="284.50" cy="838.50" r="9.90" fill="#fff"/><circle cx="284.50" cy="838.50" r="5.40" fill="#2ca02c"/>
<circle cx="288.50" cy="838.50" r="9.90" fill="#fff"/><circle cx="288.50" cy="838.50" r="5.40" fill="#2ca02c"/>
<circle cx="292.50" cy="838.50" r="9.90" fill="#fff"/><circle cx="292.50" cy="838.50" r="5.40" fill="#2ca02c"/>
<circle cx="297.50" cy="838.50" r="9.90" fill="#fff"/><circle cx="297.50" cy="838.50" r="5.40" fill="#2ca02c"/>
<circle cx="301.50" cy="838.50" r="9.90" fill="#fff"/><circle cx="301.50" cy="838.50" r="5.40" fill="#2ca02c"/>
<circle cx="305.50" cy="838.50" r="9.90" fill="#fff"/><circle cx="305.50" cy="838.50" r="5.40" fill="#2ca02c"/>
<circle cx="309.50" cy="838.50" r="9.90" fill="#fff"/><circle cx="309.50" cy="838.50" r="5.40" fill="#2ca02c"/>
<circle cx="314.50" cy="838.50" r="9.90" fill="#fff"/><circle cx="314.50" cy="838.50" r="5.40" fill="#2ca02c"/>
<circle cx="318.50" cy="838.50" r="9.90" fill="#fff"/><circle cx="318.50" cy="838.50" r="5.40" fill="#2ca02c"/>
<circle cx="322.50" cy="838.50" r="9.90" fill="#fff"/><circle cx="322.50" cy="838.50" r="5.40" fill="#2ca02c"/>
<circle cx="327.50" cy="838.50" r="9.90" fill="#fff"/><circle cx="327.50" cy="838.50" r="5.40" fill="#2ca02c"/>
<circle cx="331.50" cy="838.50" r="9.90" fill="#fff"/><circle cx="331.50" cy="838.50" r="5.40" fill="#2ca02c"/>
<circle cx="335.50" cy="838.50" r="9.90" fill="#fff"/><circle cx="335.50" cy="838.50" r="5.40" fill="#2ca02c"/>
<circle cx="339.50" cy="838.50" r="9.90" fill="#fff"/><circle cx="339.50" cy="838.50" r="5.40" fill="#2ca02c"/>
<circle cx="344.50" cy="838.50" r="9.90" fill="#fff"/><circle cx="344.50" cy="838.50" r="5.40" fill="#2ca02c"/>
<circle cx="348.50" cy="838.50" r="9.90" fill="#fff"/><circle cx="348.50" cy="838.50" r="5.40" fill="#2ca02c"/>
<circle cx="352.50" cy="838.50" r="9.90" fill="#fff"/><circle cx="352.50" cy="838.50" r="5.40" fill="#2ca02c"/>
<circle cx="356.50" cy="838.50" r="9.90" fill="#fff"/><circle cx="356.50" cy="838.50" r="5.40" fill="#2ca02c"/>
<circle cx="361.50" cy="838.50" r="9.90" fill="#fff"/><circle cx="361.50" cy="838.50" r="5.40" fill="#2ca02c"/>
<circle cx="365.50" cy="838.50" r="9.90" fill="#fff"/><circle cx="365.50" cy="838.50" r="5.40" fill="#2ca02c"/>
<circle cx="369.50" cy="838.50" r="9.90" fill="#fff"/><circle cx="369.50" cy="838.50" r="5.40" fill="#2ca02c"/>
<circle cx="374.50" cy="838.50" r="9.90" fill="#fff"/><circle cx="374.50" cy="838.50" r="5.40" fill="#2ca02c"/>
<circle cx="378.50" cy="838.50" r="9.90" fill="#fff"/><circle cx="378.50" cy="838.50" r="5.40" fill="#2ca02c"/>
<circle cx="382.50" cy="838.50" r="9.90" fill="#fff"/><circle cx="382.50" cy="838.50" r="5.40" fill="#2ca02c"/>
<circle cx="386.50" cy="838.50" r="9.90" fill="#fff"/><circle cx="386.50" cy="838.50" r="5.40" fill="#2ca02c"/>
<circle cx="391.50" cy="838.50" r="9.90" fill="#fff"/><circle cx="391.50" cy="838.50" r="5.40" fill="#2ca02c"/>
<circle cx="395.50" cy="838.50" r="9.90" fill="#fff"/><circle cx="395.50" cy="838.50" r="5.40" fill="#2ca02c"/>
<circle cx="399.50" cy="838.50" r="9.90" fill="#fff"/><circle cx="399.50" cy="838.50" r="5.40" fill="#2ca02c"/>
<circle cx="404.50" cy="838.50" r="9.90" fill="#fff"/><circle cx="404.50" cy="838.50" r="5.40" fill="#2ca02c"/>
<circle cx="408.50" cy="838.50" r="9.90" fill="#fff"/><circle cx="408.50" cy="838.50" r="5.40" fill="#2ca02c"/>
<circle cx="412.50" cy="838.50" r="9.90" fill="#fff"/><circle cx="412.50" cy="838.50" r="5.40" fill="#2ca02c"/>
<circle cx="416.50" cy="838.50" r="9.90" fill="#fff"/><circle cx="416.50" cy="838.50" r="5.40" fill="#2ca02c"/>
<circle cx="421.50" cy="838.50" r="9.90" fill="#fff"/><circle cx="421.50" cy="838.50" r="5.40" fill="#2ca02c"/>
<circle cx="425.50" cy="838.50" r="9.90" fill="#fff"/><circle cx="425.50" cy="838.50" r="5.40" fill="#2ca02c"/>
<circle cx="429.50" cy="838.50" r="9.90" fill="#fff"/><circle cx="429.50" cy="838.50" r="5.40" fill="#2ca02c"/>
<circle cx="434.50" cy="838.50" r="9.90" fill="#fff"/><circle cx="434.50" cy="838.50" r="5.40" fill="#2ca02c"/>
<circle cx="438.50" cy="838.50" r="9.90" fill="#fff"/><circle cx="438.50" cy="838.50" r="5.40" fill="#2ca02c"/>
<circle cx="442.50" cy="838.50" r="9.90" fill="#fff"/><circle cx="442.50" cy="838.50" r="5.40" fill="#2ca02c"/>
<circle cx="446.50" cy="838.50" r="9.90" fill="#fff"/><circle cx="446.50" cy="838.50" r="5.40" fill="#2ca02c"/>
<circle cx="451.50" cy="838.50" r="9.90" fill="#fff"/><circle cx="451.50" cy="838.50" r="5.40" fill="#2ca02c"/>
<circle cx="455.50" cy="838.50" r="9.90" fill="#fff"/><circle cx="455.50" cy="838.50" r="5.40" fill="#2ca02c"/>
<circle cx="459.50" cy="838.50" r="9.90" fill="#fff"/><circle cx="459.50" cy="838.50" r="5.40" fill="#2ca02c"/>
<circle cx="463.50" cy="838.50" r="9.90" fill="#fff"/><circle cx="463.50" cy="838.50" r="5.40" fill="#2ca02c"/>
<circle cx="468.50" cy="838.50" r="9.90" fill="#fff"/><circle cx="468.50" cy="838.50" r="5.40" fill="#2ca02c"/>
<circle cx="472.50" cy="838.50" r="9.90" fill="#fff"/><circle cx="472.50" cy="838.50" r="5.40" fill="#2ca02c"/>
<circle cx="476.50" cy="838.50" r="9.90" fill="#fff"/><circle cx="476.50" cy="838.50" r="5.40" fill="#2ca02c"/>
<circle cx="481.50" cy="838.50" r="9.90" fill="#fff"/><circle cx="481.50" cy="838.50" r="5.40" fill="#2ca02c"/>
<circle cx="485.50" cy="838.50" r="9.90" fill="#fff"/><circle cx="485.50" cy="838.50" r="5.40" fill="#2ca02c"/>
<circle cx="489.50" cy="838.50" r="9.90" fill="#fff"/><circle cx="489.50" cy="838.50" r="5.40" fill="#2ca02c"/>
<circle cx="493.50" cy="838.50" r="9.90" fill="#fff"/><circle cx="493.50" cy="838.50" r="5.40" fill="#2ca02c"/>
<circle cx="498.50" cy="838.50" r="9.90" fill="#fff"/><circle cx="498.50" cy="838.50" r="5.40" fill="#2ca02c"/>
<circle cx="502.50" cy="838.50" r="9.90" fill="#fff"/><circle cx="502.50" cy="838.50" r="5.40" fill="#2ca02c"/>
<circle cx="506.50" cy="838.50" r="9.90" fill="#fff"/><circle cx="506.50" cy="838.50" r="5.40" fill="#2ca02c"/>
<circle cx="511.50" cy="838.50" r="9.90" fill="#fff"/><circle cx="511.50" cy="838.50" r="5.40" fill="#2ca02c"/>
<circle cx="515.50" cy="838.50" r="9.90" fill="#fff"/><circle cx="515.50" cy="838.50" r="5.40" fill="#2ca02c"/>
<circle cx="519.50" cy="838.50" r="9.90" fill="#fff"/><circle cx="519.50" cy="838.50" r="5.40" fill="#2ca02c"/>
<circle cx="523.50" cy="838.50" r="9.90" fill="#fff"/><circle cx="523.50" cy="838.50" r="5.40" fill="#2ca02c"/>
<circle cx="528.50" cy="838.50" r="9.90" fill="#fff"/><circle cx="528.50" cy="838.50" r="5.40" fill="#2ca02c"/>
<circle cx="532.50" cy="838.50" r="9.90" fill="#fff"/><circle cx="532.50" cy="838.50" r="5.40" fill="#2ca02c"/>
<circle cx="536.50" cy="838.50" r="9.90" fill="#fff"/><circle cx="536.50" cy="838.50" r="5.40" fill="#2ca02c"/>
<circle cx="541.50" cy="838.50" r="9.90" fill="#fff"/><circle cx="541.50" cy="838.50" r="5.40" fill="#2ca02c"/>
<circle cx="545.50" cy="838.50" r="9.90" fill="#fff"/><circle cx="545.50" cy="838.50" r="5.40" fill="#2ca02c"/>
<circle cx="549.50" cy="838.50" r="9.90" fill="#fff"/><circle cx="549.50" cy="838.50" r="5.40" fill="#2ca02c"/>
<circle cx="553.50" cy="838.50" r="9.90" fill="#fff"/><circle cx="553.50" cy="838.50" r="5.40" fill="#2ca02c"/>
<circle cx="558.50" cy="838.50" r="9.90" fill="#fff"/><circle cx="558.50" cy="838.50" r="5.40" fill="#2ca02c"/>
<circle cx="562.50" cy="838.50" r="9.90" fill="#fff"/><circle cx="562.50" cy="838.50" r="5.40" fill="#2ca02c"/>
<circle cx="566.50" cy="838.50" r="9.90" fill="#fff"/><circle cx="566.50" cy="838.50" r="5.40" fill="#2ca02c"/>
<circle cx="570.50" cy="838.50" r="9.90" fill="#fff"/><circle cx="570.50" cy="838.50" r="5.40" fill="#2ca02c"/>
<circle cx="575.50" cy="838.50" r="9.90" fill="#fff"/><circle cx="575.50" cy="838.50" r="5.40" fill="#2ca02c"/>
<circle cx="579.50" cy="838.50" r="9.90" fill="#fff"/><circle cx="579.50" cy="838.50" r="5.40" fill="#2ca02c"/>
<circle cx="583.50" cy="838.50" r="9.90" fill="#fff"/><circle cx="583.50" cy="838.50" r="5.40" fill="#2ca02c"/>
<circle cx="588.50" cy="838.50" r="9.90" fill="#fff"/><circle cx="588.50" cy="838.50" r="5.40" fill="#2ca02c"/>
<circle cx="592.50" cy="838.50" r="9.90" fill="#fff"/><circle cx="592.50" cy="838.50" r="5.40" fill="#2ca02c"/>
<circle cx="596.50" cy="838.50" r="9.90" fill="#fff"/><circle cx="596.50" cy="838.50" r="5.40" fill="#2ca02c"/>
<circle cx="600.50" cy="838.50" r="9.90" fill="#fff"/><circle cx="600.50" cy="838.50" r="5.40" fill="#2ca02c"/>
<circle cx="605.50" cy="838.50" r="9.90" fill="#fff"/><circle cx="605.50" cy="838.50" r="5.40" fill="#2ca02c"/>
<circle cx="609.50" cy="838.50" r="9.90" fill="#fff"/><circle cx="609.50" cy="838.50" r="5.40" fill="#2ca02c"/>
<circle cx="613.50" cy="838.50" r="9.90" fill="#fff"/><circle cx="613.50" cy="838.50" r="5.40" fill="#2ca02c"/>
<circle cx="618.50" cy="838.50" r="9.90" fill="#fff"/><circle cx="618.50" cy="838.50" r="5.40" fill="#2ca02c"/>
<circle cx="622.50" cy="838.50" r="9.90" fill="#fff"/><circle cx="622.50" cy="838.50" r="5.40" fill="#2ca02c"/>
<circle cx="626.50" cy="838.50" r="9.90" fill="#fff"/><circle cx="626.50" cy="838.50" r="5.40" fill="#2ca02c"/>
<circle cx="630.50" cy="838.50" r="9.90" fill="#fff"/><circle cx="630.50" cy="838.50" r="5.40" fill="#2ca02c"/>
<circle cx="635.50" cy="838.50" r="9.90" fill="#fff"/><circle cx="635.50" cy="838.50" r="5.40" fill="#2ca02c"/>
<circle cx="639.50" cy="838.50" r="9.90" fill="#fff"/><circle cx="639.50" cy="838.50" r="5.40" fill="#2ca02c"/>
<circle cx="643.50" cy="838.50" r="9.90" fill="#fff"/><circle cx="643.50" cy="838.50" r="5.40" fill="#2ca02c"/>
<circle cx="648.50" cy="838.50" r="9.90" fill="#fff"/><circle cx="648.50" cy="838.50" r="5.40" fill="#2ca02c"/>
<circle cx="652.50" cy="838.50" r="9.90" fill="#fff"/><circle cx="652.50" cy="838.50" r="5.40" fill="#2ca02c"/>
<circle cx="656.50" cy="838.50" r="9.90" fill="#fff"/><circle cx="656.50" cy="838.50" r="5.40" fill="#2ca02c"/>
<circle cx="660.50" cy="838.50" r="9.90" fill="#fff"/><circle cx="660.50" cy="838.50" r="5.40" fill="#2ca02c"/>
<circle cx="665.50" cy="838.50" r="9.90" fill="#fff"/><circle cx="665.50" cy="838.50" r="5.40" fill="#2ca02c"/>
<circle cx="669.50" cy="838.50" r="9.90" fill="#fff"/><circle cx="669.50" cy="838.50" r="5.40" fill="#2ca02c"/>
<circle cx="673.50" cy="838.50" r="9.90" fill="#fff"/><circle cx="673.50" cy="838.50" r="5.40" fill="#2ca02c"/>
<circle cx="677.50" cy="838.50" r="9.90" fill="#fff"/><circle cx="677.50" cy="838.50" r="5.40" fill="#2ca02c"/>
<circle cx="682.50" cy="838.50" r="9.90" fill="#fff"/><circle cx="682.50" cy="838.50" r="5.40" fill="#2ca02c"/>
<circle cx="686.50" cy="838.50" r="9.90" fill="#fff"/><circle cx="686.50" cy="838.50" r="5.40" fill="#2ca02c"/>
<circle cx="690.50" cy="838.50" r="9.90" fill="#fff"/><circle cx="690.50" cy="838.50" r="5.40" fill="#2ca02c"/>
<circle cx="695.50" cy="838.50" r="9.90" fill="#fff"/><circle cx="695.50" cy="838.50" r="5.40" fill="#2ca02c"/>
<circle cx="699.50" cy="838.50" r="9.90" fill="#fff"/><circle cx="699.50" cy="838.50" r="5.40" fill="#2ca02c"/>
<circle cx="703.50" cy="838.50" r="9.90" fill="#fff"/><circle cx="703.50" cy="838.50" r="5.40" fill="#2ca02c"/>
<circle cx="707.50" cy="838.50" r="9.90" fill="#fff"/><circle cx="707.50" cy="838.50" r="5.40" fill="#2ca02c"/>
<circle cx="712.50" cy="838.50" r="9.90" fill="#fff"/><circle cx="712.50" cy="838.50" r="5.40" fill="#2ca02c"/>
<circle cx="716.50" cy="838.50" r="9.90" fill="#fff"/><circle cx="716.50" cy="838.50" r="5.40" fill="#2ca02c"/>
<circle cx="720.50" cy="838.50" r="9.90" fill="#fff"/><circle cx="720.50" cy="838.50" r="5.40" fill="#2ca02c"/>
<circle cx="725.50" cy="838.50" r="9.90" fill="#fff"/><circle cx="725.50" cy="838.50" r="5.40" fill="#2ca02c"/>
<circle cx="729.50" cy="838.50" r="9.90" fill="#fff"/><circle cx="729.50" cy="838.50" r="5.40" fill="#2ca02c"/>
<circle cx="733.50" cy="838.50" r="9.90" fill="#fff"/><circle cx="733.50" cy="838.50" r="5.40" fill="#2ca02c"/>
<circle cx="737.50" cy="838.50" r="9.90" fill="#fff"/><circle cx="737.50" cy="838.50" r="5.40" fill="#2ca02c"/>
<circle cx="742.50" cy="838.50" r="9.90" fill="#fff"/><circle cx="742.50" cy="838.50" r="5.40" fill="#2ca02c"/>
<circle cx="746.50" cy="838.50" r="9.90" fill="#fff"/><circle cx="746.50" cy="838.50" r="5.40" fill="#2ca02c"/>
<circle cx="750.50" cy="838.50" r="9.90" fill="#fff"/><circle cx="750.50" cy="838.50" r="5.40" fill="#2ca02c"/>
<circle cx="755.50" cy="838.50" r="9.90" fill="#fff"/><circle cx="755.50" cy="838.50" r="5.40" fill="#2ca02c"/>
<circle cx="759.50" cy="838.50" r="9.90" fill="#fff"/><circle cx="759.50" cy="838.50" r="5.40" fill="#2ca02c"/>
<circle cx="763.50" cy="838.50" r="9.90" fill="#fff"/><circle cx="763.50" cy="838.50" r="5.40" fill="#2ca02c"/>
<circle cx="767.50" cy="838.50" r="9.90" fill="#fff"/><circle cx="767.50" cy="838.50" r="5.40" fill="#2ca02c"/>
<circle cx="772.50" cy="838.50" r="9.90" fill="#fff"/><circle cx="772.50" cy="838.50" r="5.40" fill="#2ca02c"/>
<circle cx="776.50" cy="838.50" r="9.90" fill="#fff"/><circle cx="776.50" cy="838.50" r="5.40" fill="#2ca02c"/>
<circle cx="780.50" cy="838.50" r="9.90" fill="#fff"/><circle cx="780.50" cy="838.50" r="5.40" fill="#2ca02c"/>
<circle cx="784.50" cy="838.50" r="9.90" fill="#fff"/><circle cx="784.50" cy="838.50" r="5.40" fill="#2ca02c"/>
<circle cx="789.50" cy="838.50" r="9.90" fill="#fff"/><circle cx="789.50" cy="838.50" r="5.40" fill="#2ca02c"/>
<circle cx="793.50" cy="838.50" r="9.90" fill="#fff"/><circle cx="793.50" cy="838.50" r="5.40" fill="#2ca02c"/>
<circle cx="797.50" cy="838.50" r="9.90" fill="#fff"/><circle cx="797.50" cy="838.50" r="5.40" fill="#2ca02c"/>
<circle cx="802.50" cy="838.50" r="9.90" fill="#fff"/><circle cx="802.50" cy="838.50" r="5.40" fill="#2ca02c"/>
<circle cx="806.50" cy="838.50" r="9.90" fill="#fff"/><circle cx="806.50" cy="838.50" r="5.40" fill="#2ca02c"/>
<circle cx="810.50" cy="838.50" r="9.90" fill="#fff"/><circle cx="810.50" cy="838.50" r="5.40" fill="#2ca02c"/>
<circle cx="814.50" cy="838.50" r="9.90" fill="#fff"/><circle cx="814.50" cy="838.50" r="5.40" fill="#2ca02c"/>
<circle cx="819.50" cy="838.50" r="9.90" fill="#fff"/><circle cx="819.50" cy="838.50" r="5.40" fill="#2ca02c"/>
<circle cx="823.50" cy="838.50" r="9.90" fill="#fff"/><circle cx="823.50" cy="838.50" r="5.40" fill="#2ca02c"/>
<circle cx="827.50" cy="838.50" r="9.90" fill="#fff"/><circle cx="827.50" cy="838.50" r="5.40" fill="#2ca02c"/>
<circle cx="832.50" cy="838.50" r="9.90" fill="#fff"/><circle cx="832.50" cy="838.50" r="5.40" fill="#2ca02c"/>
<circle cx="836.50" cy="838.50" r="9.90" fill="#fff"/><circle cx="836.50" cy="838.50" r="5.40" fill="#2ca02c"/>
<circle cx="840.50" cy="838.50" r="9.90" fill="#fff"/><circle cx="840.50" cy="838.50" r="5.40" fill="#2ca02c"/>
<circle cx="844.50" cy="838.50" r="9.90" fill="#fff"/><circle cx="844.50" cy="838.50" r="5.40" fill="#2ca02c"/>
<circle cx="849.50" cy="838.50" r="9.90" fill="#fff"/><circle cx="849.50" cy="838.50" r="5.40" fill="#2ca02c"/>
<circle cx="853.50" cy="838.50" r="9.90" fill="#fff"/><circle cx="853.50" cy="838.50" r="5.40" fill="#2ca02c"/>
<circle cx="857.50" cy="838.50" r="9.90" fill="#fff"/><circle cx="857.50" cy="838.50" r="5.40" fill="#2ca02c"/>
<circle cx="862.50" cy="838.50" r="9.90" fill="#fff"/><circle cx="862.50" cy="838.50" r="5.40" fill="#2ca02c"/>
<circle cx="866.50" cy="838.50" r="9.90" fill="#fff"/><circle cx="866.50" cy="838.50" r="5.40" fill="#2ca02c"/>
<circle cx="870.50" cy="838.50" r="9.90" fill="#fff"/><circle cx="870.50" cy="838.50" r="5.40" fill="#2ca02c"/>
<circle cx="874.50" cy="838.50" r="9.90" fill="#fff"/><circle cx="874.50" cy="838.50" r="5.40" fill="#2ca02c"/>
<circle cx="879.50" cy="838.50" r="9.90" fill="#fff"/><circle cx="879.50" cy="838.50" r="5.40" fill="#2ca02c"/>
<circle cx="883.50" cy="838.50" r="9.90" fill="#fff"/><circle cx="883.50" cy="838.50" r="5.40" fill="#2ca02c"/>
<circle cx="887.50" cy="838.50" r="9.90" fill="#fff"/><circle cx="887.50" cy="838.50" r="5.40" fill="#2ca02c"/>
<circle cx="891.50" cy="838.50" r="9.90" fill="#fff"/><circle cx="891.50" cy="838.50" r="5.40" fill="#2ca02c"/>
<circle cx="896.50" cy="838.50" r="9.90" fill="#fff"/><circle cx="896.50" cy="838.50" r="5.40" fill="#2ca02c"/>
<circle cx="900.50" cy="838.50" r="9.90" fill="#fff"/><circle cx="900.50" cy="838.50" r="5.40" fill="#2ca02c"/>
<circle cx="904.50" cy="838.50" r="9.90" fill="#fff"/><circle cx="904.50" cy="838.50" r="5.40" fill="#2ca02c"/>
<circle cx="909.50" cy="838.50" r="9.90" fill="#fff"/><circle cx="909.50" cy="838.50" r="5.40" fill="#2ca02c"/>
<circle cx="913.50" cy="838.50" r="9.90" fill="#fff"/><circle cx="913.50" cy="838.50" r="5.40" fill="#2ca02c"/>
<circle cx="917.50" cy="838.50" r="9.90" fill="#fff"/><circle cx="917.50" cy="838.50" r="5.40" fill="#2ca02c"/>
<circle cx="921.50" cy="838.50" r="9.90" fill="#fff"/><circle cx="921.50" cy="838.50" r="5.40" fill="#2ca02c"/>
<circle cx="926.50" cy="838.50" r="9.90" fill="#fff"/><circle cx="926.50" cy="838.50" r="5.40" fill="#2ca02c"/>
<circle cx="930.50" cy="838.50" r="9.90" fill="#fff"/><circle cx="930.50" cy="838.50" r="5.40" fill="#2ca02c"/>
<circle cx="934.50" cy="838.50" r="9.90" fill="#fff"/><circle cx="934.50" cy="838.50" r="5.40" fill="#2ca02c"/>
<circle cx="939.50" cy="838.50" r="9.90" fill="#fff"/><circle cx="939.50" cy="838.50" r="5.40" fill="#2ca02c"/>
<circle cx="943.50" cy="838.50" r="9.90" fill="#fff"/><circle cx="943.50" cy="838.50" r="5.40" fill="#2ca02c"/>
<circle cx="947.50" cy="838.50" r="9.90" fill="#fff"/><circle cx="947.50" cy="838.50" r="5.40" fill="#2ca02c"/>
<circle cx="951.50" cy="838.50" r="9.90" fill="#fff"/><circle cx="951.50" cy="838.50" r="5.40" fill="#2ca02c"/>
<circle cx="956.50" cy="838.50" r="9.90" fill="#fff"/><circle cx="956.50" cy="838.50" r="5.40" fill="#2ca02c"/>
<path d="M95.5 57.5V838.5H1165.5" stroke="#000" stroke-width="1" fill="none"/>
<rect x="935" y="63.5" width="224" height="60" fill="#fff"/>
<text x="1087.4" y="80.2" text-anchor="end" xml:space="preserve">TCP</text>
<path d="M1098.3 74.4H1144.5" stroke="#0060ad" stroke-width="2" stroke-linecap="round"/>
<circle cx="1121.4" cy="74.4" r="9.90" fill="#fff"/><circle cx="1121.4" cy="74.4" r="5.40" fill="#0060ad"/>
<text x="1087.4" y="99.2" text-anchor="end" xml:space="preserve">UDP</text>
<path d="M1098.3 93.4H1144.5" stroke="#ff7f00" stroke-width="2" stroke-linecap="round"/>
<circle cx="1121.4" cy="93.4" r="9.90" fill="#fff"/><circle cx="1121.4" cy="93.4" r="5.40" fill="#ff7f00"/>
<text x="1087.4" y="118.2" text-anchor="end" xml:space="preserve">IP (!TCP  !UDP)</text>
<path d="M1098.3 112.4H1144.5" stroke="#2ca02c" stroke-width="2" stroke-linecap="round"/>
<circle cx="1121.4" cy="112.4" r="9.90" fill="#fff"/><circle cx="1121.4" cy="112.4" r="5.40" fill="#2ca02c"/>
</svg></body></html>
